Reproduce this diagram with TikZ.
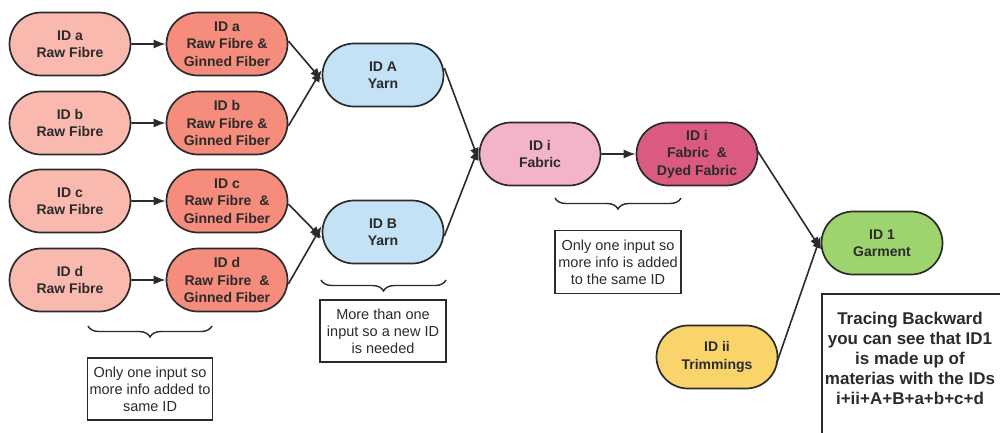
\documentclass[tikz,border=0pt]{standalone}
\usepackage{fontspec}
\setmainfont{Liberation Sans}
\usetikzlibrary{shapes.misc,arrows.meta,decorations.pathreplacing}
\definecolor{rawc}{HTML}{F9B9AF}
\definecolor{ginc}{HTML}{F58C7C}
\definecolor{yarnc}{HTML}{C3E2F6}
\definecolor{fabc}{HTML}{F3B3C9}
\definecolor{dyec}{HTML}{DA5A80}
\definecolor{garc}{HTML}{9DD46E}
\definecolor{trimc}{HTML}{F9D46B}
\definecolor{linec}{HTML}{2B2B2B}
\definecolor{txtc}{HTML}{2B2B2B}
\begin{document}
\begin{tikzpicture}[x=1pt,y=-1pt,
  proc/.style={rounded rectangle, draw=linec, line width=1.7pt, minimum width=125pt, minimum height=63pt, inner sep=2pt, align=center, font=\bfseries\fontsize{14}{17.5}\selectfont, text=txtc},
  note/.style={draw=linec, line width=1.4pt, align=center, font=\fontsize{14.5}{17}\selectfont, text=txtc, inner sep=0pt},
  conn/.style={draw=linec, line width=1.6pt, -{Latex[length=12pt,width=9pt]}},
  brc/.style={draw=linec, line width=1.4pt, decorate, decoration={brace, amplitude=11pt, mirror}}]
\useasboundingbox (0,0) rectangle (1000,432);
\fill[white] (0,0) rectangle (1000,432);
\node[proc, fill=rawc] (ra) at (70,44) {ID a\\Raw Fibre};
\node[proc, fill=rawc] (rb) at (70,123) {ID b\\Raw Fibre};
\node[proc, fill=rawc] (rc) at (70,201) {ID c\\Raw Fibre};
\node[proc, fill=rawc] (rd) at (70,280) {ID d\\Raw Fibre};
\node[proc, fill=ginc] (ga) at (227,44) {ID a\\Raw Fibre \&\\Ginned Fiber};
\node[proc, fill=ginc] (gb) at (227,123) {ID b\\Raw Fibre \&\\Ginned Fiber};
\node[proc, fill=ginc] (gc) at (227,201) {ID c\\Raw Fibre\ \ \&\\Ginned Fiber};
\node[proc, fill=ginc] (gd) at (227,280) {ID d\\Raw Fibre\ \ \&\\Ginned Fiber};
\node[proc, fill=yarnc] (ya) at (383,75) {ID A\\Yarn};
\node[proc, fill=yarnc] (yb) at (383,232) {ID B\\Yarn};
\node[proc, fill=fabc] (fi) at (540,154) {ID i\\Fabric};
\node[proc, fill=dyec] (dy) at (697,154) {ID i\\Fabric\ \ \&\\Dyed Fabric};
\node[proc, fill=garc] (gm) at (882,243) {ID 1\\Garment};
\node[proc, fill=trimc] (tr) at (717,357) {ID ii\\Trimmings};
\draw[conn] (ra) -- (ga);
\draw[conn] (rb) -- (gb);
\draw[conn] (rc) -- (gc);
\draw[conn] (rd) -- (gd);
\draw[conn] ([yshift=3pt]ga.east) -- ([yshift=-5pt]ya.west);
\draw[conn] ([yshift=-3pt]gb.east) -- ([yshift=5pt]ya.west);
\draw[conn] ([yshift=-3pt]gc.east) -- ([yshift=-6pt]yb.west);
\draw[conn] ([yshift=-4pt]gd.east) -- ([yshift=6pt]yb.west);
\draw[conn] ([yshift=7pt]ya.east) -- ([yshift=-6pt]fi.west);
\draw[conn] ([yshift=-4pt]yb.east) -- ([yshift=6pt]fi.west);
\draw[conn] (fi) -- (dy);
\draw[conn] ([xshift=-2pt,yshift=5pt]dy.east) -- ([yshift=-6pt]gm.west);
\draw[conn] ([xshift=-2pt,yshift=-7pt]tr.east) -- ([yshift=7pt]gm.west);
\coordinate (b1l) at (88,326); \coordinate (b1r) at (212,326);
\draw[brc] (b1l) -- (b1r);
\coordinate (b2l) at (321,280); \coordinate (b2r) at (446,280);
\draw[brc] (b2l) -- (b2r);
\coordinate (b3l) at (555,198); \coordinate (b3r) at (681,198);
\draw[brc] (b3l) -- (b3r);
\node[note, minimum width=125pt, minimum height=62pt] (n1) at (150,389) {Only one input so\\more info added to\\same ID};
\node[note, minimum width=126pt, minimum height=62pt] (n2) at (383,331) {More than one\\input so a new ID\\is needed};
\node[note, minimum width=126pt, minimum height=63pt] (n3) at (618,262) {Only one input so\\more info is added\\to the same ID};
\draw[linec, line width=1.4pt] (1002,294) -- (822,294) -- (822,434);
\node[font=\bfseries\fontsize{17}{20}\selectfont, text=txtc, align=center] (n4) at (910,358) {Tracing Backward\\you can see that ID1\\is made up of\\materias with the IDs\\i+ii+A+B+a+b+c+d};
\end{tikzpicture}
\end{document}
